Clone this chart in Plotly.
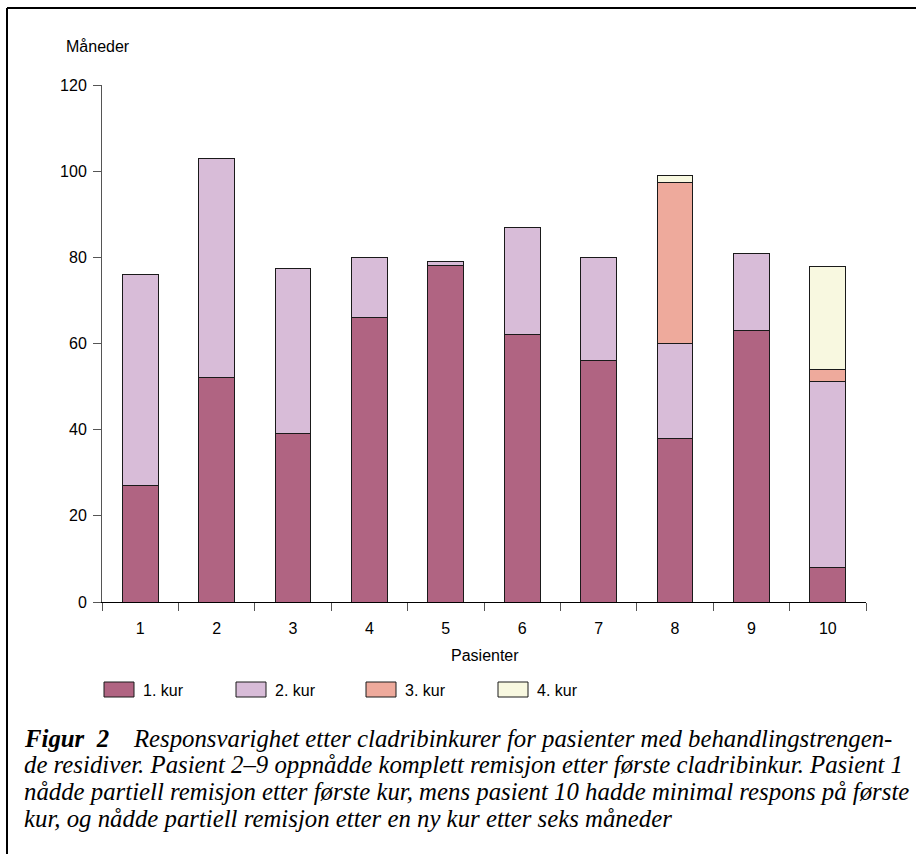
import plotly.graph_objects as go

patients = ["1", "2", "3", "4", "5", "6", "7", "8", "9", "10"]
series_names = ["1. kur", "2. kur", "3. kur", "4. kur"]
kur1 = [27, 52, 39, 66, 78, 62, 56, 38, 63, 8]
kur2 = [49, 51, 38.5, 14, 1, 25, 24, 22, 18, 43.2]
kur3 = [None, None, None, None, None, None, None, 37.4, None, 2.7]
kur4 = [None, None, None, None, None, None, None, 1.7, None, 24]
colors = ["#b06482", "#d8bcd8", "#eeaa9c", "#f8f8e0"]
y_ticks = [0, 20, 40, 60, 80, 100, 120]

W, H = 916, 854
L, R, T, B = 102, 50, 85, 252
PW, PH = W - L - R, H - T - B

def px(x):
    return (x - L) / PW

def py(y):
    return (H - B - y) / PH

SANS = "Liberation Sans, Arial"
SERIF = "Liberation Serif, Times New Roman"

fig = go.Figure()
for name, vals, col in zip(series_names, [kur1, kur2, kur3, kur4], colors):
    fig.add_trace(go.Bar(
        x=patients, y=vals, name=name,
        marker=dict(color=col, line=dict(color="#1a1a1a", width=1)),
        showlegend=False, hoverinfo="skip",
    ))

shapes = []
annotations = []
# outer frame (top and left edges)
shapes.append(dict(type="line", xref="paper", yref="paper",
                   x0=px(7), x1=px(916), y0=py(8), y1=py(8),
                   line=dict(color="black", width=2)))
shapes.append(dict(type="line", xref="paper", yref="paper",
                   x0=px(7), x1=px(7), y0=py(8), y1=py(854),
                   line=dict(color="black", width=2)))

# legend
leg_x = [104, 236, 366, 498]
for i, (name, col) in enumerate(zip(series_names, colors)):
    x0 = leg_x[i]
    shapes.append(dict(type="rect", xref="paper", yref="paper",
                       x0=px(x0), x1=px(x0 + 30), y0=py(697), y1=py(682),
                       fillcolor=col, line=dict(color="#1a1a1a", width=1)))
    annotations.append(dict(xref="paper", yref="paper", x=px(x0 + 37), y=py(690),
                            text=name, showarrow=False, xanchor="left", yanchor="middle",
                            font=dict(family=SANS, size=16, color="black")))

# axis titles
annotations.append(dict(xref="paper", yref="paper", x=px(64), y=py(47),
                        text="Måneder", showarrow=False, xanchor="left", yanchor="middle",
                        font=dict(family=SANS, size=16, color="black")))
annotations.append(dict(xref="paper", yref="paper", x=px(485), y=py(656),
                        text="Pasienter", showarrow=False, xanchor="center", yanchor="middle",
                        font=dict(family=SANS, size=16, color="black")))

# caption
cap_lines = [
    "<b>Figur  2</b>    Responsvarighet etter cladribinkurer for pasienter med behandlingstrengen-",
    "de residiver. Pasient 2–9 oppnådde komplett remisjon etter første cladribinkur. Pasient 1",
    "nådde partiell remisjon etter første kur, mens pasient 10 hadde minimal respons på første",
    "kur, og nådde partiell remisjon etter en ny kur etter seks måneder",
]
cap_y = [738, 764, 791, 818]
for line, yy in zip(cap_lines, cap_y):
    annotations.append(dict(xref="paper", yref="paper", x=px(22), y=py(yy),
                            text="<i>" + line + "</i>", showarrow=False,
                            xanchor="left", yanchor="middle",
                            font=dict(family=SERIF, size=24.8, color="black")))

fig.update_layout(
    width=W, height=H,
    margin=dict(l=L, r=R, t=T, b=B, autoexpand=False),
    paper_bgcolor="white", plot_bgcolor="white",
    barmode="stack", bargap=0.53,
    shapes=shapes, annotations=annotations,
    font=dict(family=SANS, size=16, color="black"),
    hovermode=False,
    xaxis=dict(
        type="category", tickson="boundaries", ticks="outside", ticklen=8,
        tickcolor="#555", showline=True, linecolor="black", linewidth=1,
        showgrid=False, zeroline=False, tickfont=dict(size=16),
        ticklabelstandoff=12, range=[-0.5, 9.5],
    ),
    yaxis=dict(
        range=[0, 120], tickvals=y_ticks, ticks="outside", ticklen=8,
        tickcolor="#555", showline=True, linecolor="#555", linewidth=1,
        showgrid=False, zeroline=False, tickfont=dict(size=16),
        ticklabelstandoff=3,
    ),
)

fig.write_html("out.html", config={"displayModeBar": False},
               post_script="document.body.style.margin='0';document.body.style.overflow='hidden';")
